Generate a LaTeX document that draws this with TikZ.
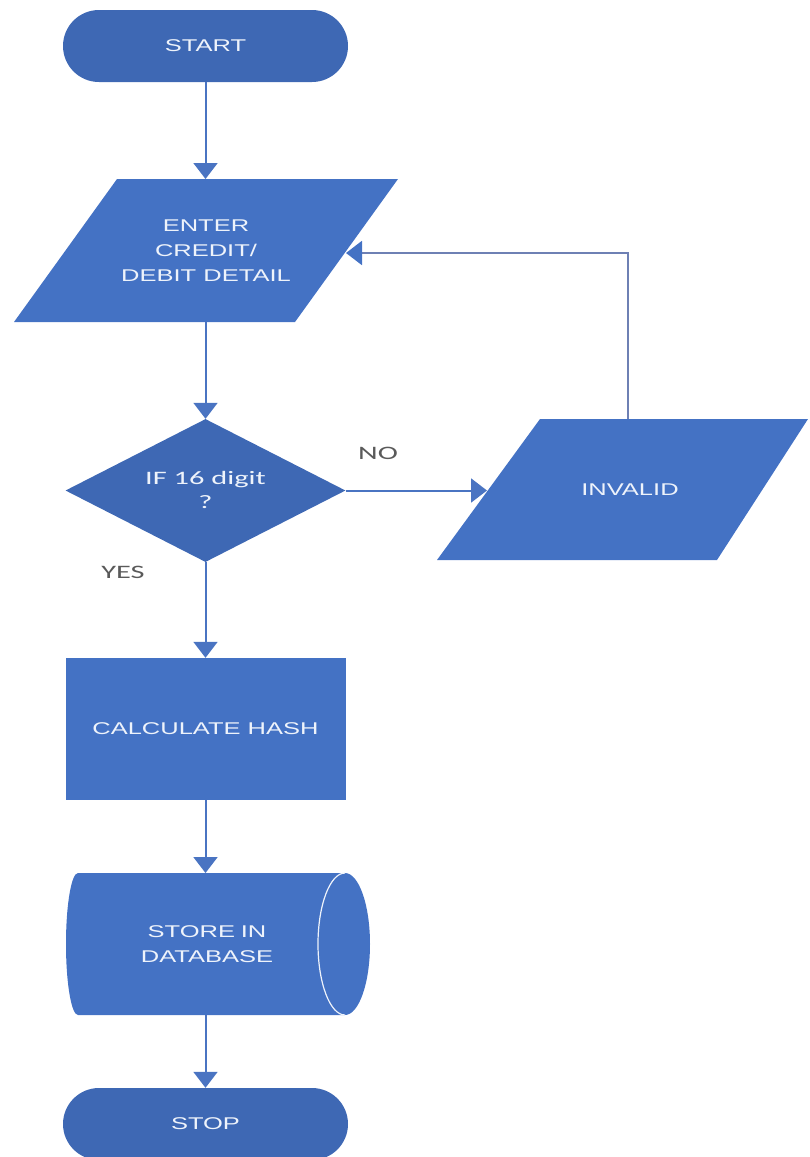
\documentclass[tikz,border=0pt]{standalone}
\usepackage{fontspec}
\setmainfont{Liberation Sans}
\newfontfamily\mainf[FakeStretch=1.5]{Liberation Sans}
\newfontfamily\calf[FakeStretch=1.6]{Carlito}
\usetikzlibrary{arrows.meta,shapes.geometric,shapes.misc}
\definecolor{shapeblue}{HTML}{4472C4}
\definecolor{darkblue}{HTML}{3E68B4}
\definecolor{lineblue}{HTML}{4A74C2}
\definecolor{loopgray}{HTML}{6E80B4}
\definecolor{txtw}{HTML}{EEF3FB}
\definecolor{lblgray}{HTML}{5A5A5A}
\begin{document}
\begin{tikzpicture}[x=1pt,y=-1pt,
  conn/.style={draw=lineblue, line width=2pt, -{Triangle[width=24pt,length=16pt]}},
  loopconn/.style={draw=loopgray, line width=2pt, -{Triangle[width=24pt,length=16pt,color=shapeblue]}},
  txt/.style={text=txtw, font=\mainf\fontsize{17}{25}\selectfont, align=center, inner sep=0pt},
  ctxt/.style={text=txtw, font=\calf\fontsize{19}{24}\selectfont, align=center, inner sep=0pt},
  lbl/.style={text=lblgray, font=\calf\fontsize{19}{24}\selectfont, inner sep=0pt},
  term/.style={rounded rectangle, fill=darkblue, minimum width=285pt, minimum height=72pt, txt},
  procbox/.style={rectangle, fill=shapeblue, minimum width=280pt, minimum height=142pt, txt},
  decbox/.style={diamond, fill=darkblue, minimum width=280pt, minimum height=143pt, inner sep=0pt},
  iofill/.style={fill=shapeblue}
]
\useasboundingbox (0,0) rectangle (809,1157);

% START
\node[term] (start) at (205.5,46) {START};

% ENTER parallelogram
\fill[iofill] (117,179) -- (398,179) -- (295,322) -- (14,322) -- cycle;
\node[txt] (enter) at (206,251) {ENTER\\CREDIT/\\DEBIT DETAIL};
\coordinate (enter-n) at (205.5,179);
\coordinate (enter-s) at (205.5,322);
\coordinate (enter-e) at (346,253);

% Decision
\node[decbox] (dec) at (205.5,490.5) {};
\node[ctxt] (dectext) at (205.5,490) {IF 16 digit\\?};

% INVALID parallelogram
\fill[iofill] (540,419) -- (808,419) -- (717,560) -- (437,560) -- cycle;
\node[txt] (invalid) at (630,490) {INVALID};
\coordinate (inv-w) at (487,490.5);
\coordinate (inv-n) at (628,419);
\coordinate (loopc) at (628,253);

% CALCULATE HASH
\node[procbox] (calc) at (205.5,729) {CALCULATE HASH};

% STORE IN DATABASE (storage)
\fill[shapeblue] (78,873) -- (345,873)
  arc[start angle=90, end angle=-90, x radius=25pt, y radius=71pt]
  -- (78,1015)
  arc[start angle=270, end angle=90, x radius=12pt, y radius=71pt] -- cycle;
\draw[txtw, line width=1.2pt] (345,873)
  arc[start angle=90, end angle=270, x radius=27pt, y radius=71pt];
\node[txt, text width=200pt] (store) at (207,944) {STORE IN\\DATABASE};
\coordinate (cyl-n) at (205.5,873);
\coordinate (cyl-s) at (205.5,1015);

% STOP
\node[term] (stop) at (205.5,1124) {STOP};

% labels
\node[lbl] (no) at (378,453) {NO};
\node[lbl] (yes) at (123,572) {YES};

% connectors
\draw[conn] (start.south) -- (enter-n);
\draw[conn] (enter-s) -- (dec.north);
\draw[conn] (dec.east) -- (inv-w);
\draw[loopconn] (inv-n) -- (loopc) -- (enter-e);
\draw[conn] (dec.south) -- (calc.north);
\draw[conn] (calc.south) -- (cyl-n);
\draw[conn] (cyl-s) -- (stop.north);
\end{tikzpicture}
\end{document}
